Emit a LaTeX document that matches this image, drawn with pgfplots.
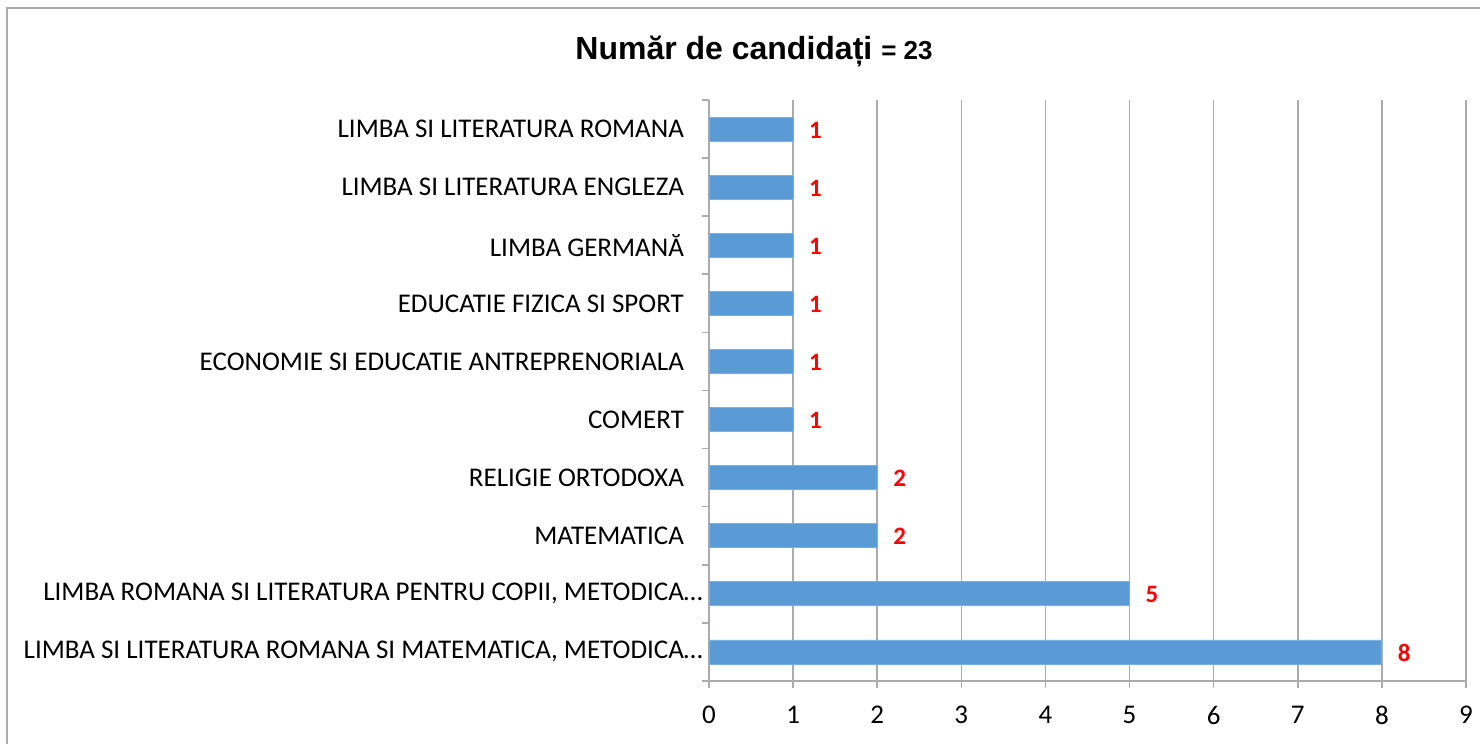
\documentclass[border=0pt]{standalone}
\usepackage{fontspec}
\setmainfont{Carlito}
\newfontfamily\titlefont{Liberation Sans}
\usepackage{pgfplots}
\usetikzlibrary{calc}
\pgfplotsset{compat=1.18}
\definecolor{barblue}{HTML}{5B9BD5}
\definecolor{gridgray}{HTML}{ABABAB}
\begin{document}
\begin{tikzpicture}
\begin{axis}[
  scale only axis, width=378.5pt, height=290.5pt,
  xbar, bar width=12pt,
  xmin=0, xmax=9, ymin=-0.5, ymax=9.5,
  xtick={0,1,2,3,4,5,6,7,8,9},
  ytick={-0.5,0.5,1.5,2.5,3.5,4.5,5.5,6.5,7.5,8.5,9.5},
  yticklabels={},
  extra y ticks={0,1,2,3,4,5,6,7,8,9},
  extra y tick labels={
    {LIMBA SI LITERATURA ROMANA SI MATEMATICA, METODICA\rlap{…}},
    {LIMBA ROMANA SI LITERATURA PENTRU COPII, METODICA\rlap{…}},
    {MATEMATICA},
    {RELIGIE ORTODOXA},
    {COMERT},
    {ECONOMIE SI EDUCATIE ANTREPRENORIALA},
    {EDUCATIE FIZICA SI SPORT},
    {LIMBA GERMANĂ},
    {LIMBA SI LITERATURA ENGLEZA},
    {LIMBA SI LITERATURA ROMANA}},
  extra y tick style={major tick length=0pt, tick style={draw=none}},
  axis x line=bottom, axis y line=left,
  axis line style={draw=gridgray, line width=0.8pt, -},
  xmajorgrids, major grid style={gridgray, line width=0.8pt},
  tick align=outside,
  major tick length=3.5pt,
  tick style={draw=gridgray, line width=0.8pt},
  /pgf/number format/assume math mode=true,
  tick label style={font=\fontsize{13.5}{15}\selectfont, text=black},
  yticklabel style={xshift=-9pt},
  xticklabel style={yshift=-5.5pt},
  nodes near coords,
  every node near coord/.append style={font=\fontsize{12.5}{15}\selectfont\bfseries, text=red, anchor=west, xshift=4.5pt, yshift=-0.5pt},
  clip=false,
]
\addplot[fill=barblue, draw=barblue!80!white] coordinates {
  (8,0) (5,1) (2,2) (2,3) (1,4) (1,5) (1,6) (1,7) (1,8) (1,9)
};
\coordinate (O) at (rel axis cs:0,0);
\end{axis}
\draw[gridgray, line width=0.8pt] ($(O)+(-351pt,-40pt)$) -- ($(O)+(-351pt,336.5pt)$) -- ($(O)+(395pt,336.5pt)$);
\node[font=\titlefont\bfseries, anchor=base] at ($(O)+(22.5pt,310.5pt)$) {\fontsize{16}{18}\selectfont Număr de candidați \fontsize{13}{15}\selectfont = 23};
\pgfresetboundingbox
\path[use as bounding box] ($(O)+(-354.5pt,-31.5pt)$) rectangle ($(O)+(385.5pt,340.5pt)$);
\end{tikzpicture}
\end{document}
